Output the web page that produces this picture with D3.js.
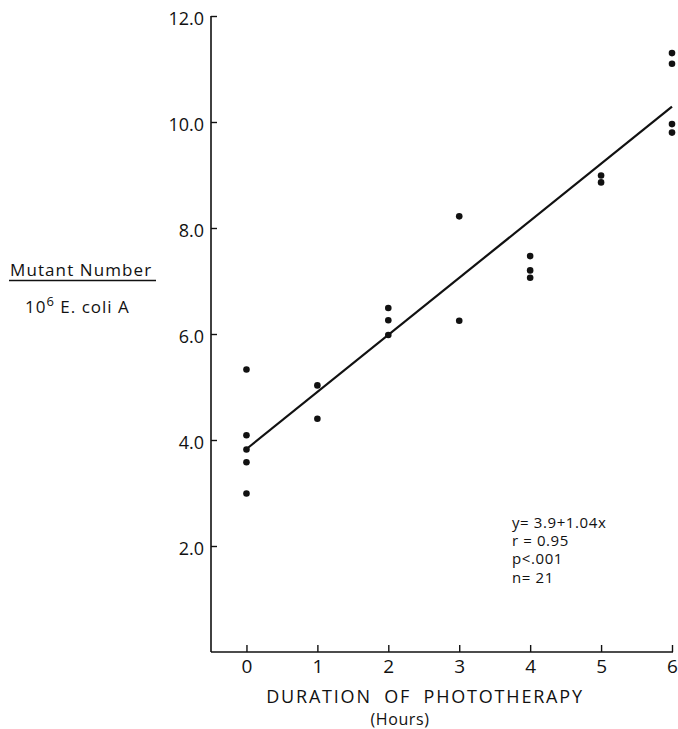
<!DOCTYPE html>
<html><head><meta charset="utf-8">
<script src="https://cdn.jsdelivr.net/npm/d3@7/dist/d3.min.js"></script>
<style>
html,body{margin:0;padding:0;background:#fff;}
svg text{font-family:"Open Sans","DejaVu Sans",sans-serif;fill:#111;}
</style></head>
<body>
<svg id="c" width="678" height="729"></svg>
<script>
// Data
const hours = [0,0,0,0,0, 1,1, 2,2,2, 3,3, 4,4,4, 5,5, 6,6,6,6];
const mutants = [5.33,4.09,3.82,3.58,2.99, 5.03,4.40, 6.49,6.26,5.98, 8.22,6.25, 7.47,7.20,7.06, 8.99,8.86, 11.30,11.10,9.96,9.80];
const fitX = [0, 6];
const fitY = [3.83, 10.29];
const xTicks = [0,1,2,3,4,5,6];
const yTicks = [2,4,6,8,10,12];
const statsLines = ["y= 3.9+1.04x","r = 0.95","p<.001","n= 21"];

const svg = d3.select("#c");
const x = d3.scaleLinear().domain([-0.5, 6]).range([211, 672]);
const y = d3.scaleLinear().domain([0, 12]).range([652, 16]);

// axes
const yAxis = d3.axisLeft(y).tickValues(yTicks).tickSize(-6).tickPadding(7).tickFormat(d3.format(".1f"));
const gy = svg.append("g").attr("transform","translate(211,0)").call(yAxis);
gy.select(".domain").attr("d","M0,652V16").attr("stroke","#111").attr("stroke-width",1.6);
gy.selectAll(".tick line").attr("stroke","#111").attr("stroke-width",1.4);
gy.selectAll(".tick text").attr("font-size",18).attr("dy","0.45em").style("font-family",'"Open Sans",sans-serif');

const xAxis = d3.axisBottom(x).tickValues(xTicks).tickSize(-7).tickPadding(8).tickFormat(d3.format("d"));
const gx = svg.append("g").attr("transform","translate(0,652)").call(xAxis);
gx.select(".domain").attr("d","M211,0H673").attr("stroke","#111").attr("stroke-width",1.6);
gx.selectAll(".tick line").attr("stroke","#111").attr("stroke-width",1.4);
gx.selectAll(".tick text").attr("font-size",19).style("font-family",'"Open Sans",sans-serif');

// regression line
const line = d3.line().x(d=>x(d[0])).y(d=>y(d[1]));
svg.append("path").datum(d3.zip(fitX, fitY)).attr("d", line)
  .attr("fill","none").attr("stroke","#111").attr("stroke-width",2.2);

// points
svg.append("g").selectAll("circle").data(d3.zip(hours, mutants)).join("circle")
  .attr("cx", d=>x(d[0])).attr("cy", d=>y(d[1])).attr("r", 3.3).attr("fill","#111");

// stats text
svg.append("g").selectAll("text").data(statsLines).join("text")
  .attr("x", 512).attr("y", (d,i)=>528 + i*18.2).attr("font-size",15).attr("letter-spacing",0.6).text(d=>d);

// y label
svg.append("text").attr("x", 10).attr("y", 276).attr("font-size",17).attr("letter-spacing",1.1).text("Mutant Number");
svg.append("line").attr("x1",9).attr("x2",156).attr("y1",280.5).attr("y2",280.5).attr("stroke","#111").attr("stroke-width",1.4);
const t2 = svg.append("text").attr("x", 25).attr("y", 313).attr("font-size",17).attr("letter-spacing",1.0);
t2.append("tspan").text("10");
t2.append("tspan").attr("font-size",13).attr("dy",-7).text("6");
t2.append("tspan").attr("dy",7).text(" E. coli A");

// x label
svg.append("text").attr("x", 425).attr("y", 703).attr("text-anchor","middle").attr("font-size",18).attr("letter-spacing",1.8).attr("word-spacing",6).text("DURATION OF PHOTOTHERAPY");
svg.append("text").attr("x", 400).attr("y", 725).attr("text-anchor","middle").attr("font-size",16).attr("letter-spacing",0.6).text("(Hours)");
</script>
</body></html>
